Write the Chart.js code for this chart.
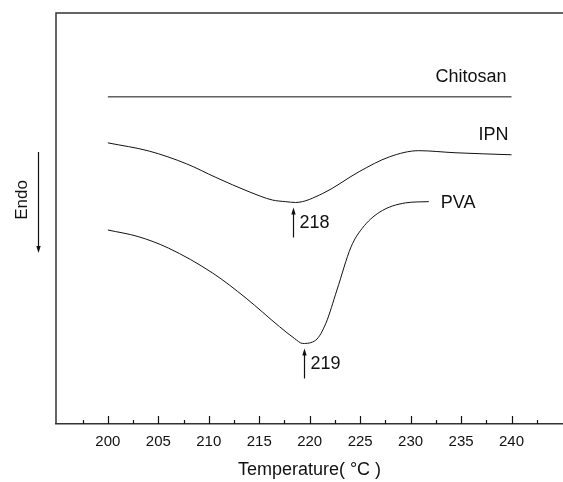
<!DOCTYPE html>
<html>
<head>
<meta charset="utf-8">
<script src="https://cdn.jsdelivr.net/npm/chart.js@4.4.0/dist/chart.umd.min.js"></script>
<style>
  html, body { margin: 0; background: #fff; }
  #wrap { width: 563px; height: 482px; }
</style>
</head>
<body>
<div id="wrap"><canvas id="c"></canvas></div>
<script>
// DSC curves (heat flow, arbitrary units, endo down)
const chitosanT = [200, 240];
const chitosanY = [79.6, 79.6];

const ipnT = [200, 204.1, 207.8, 210.7, 214.0, 216.3, 217.6, 218.6, 221.3, 224.9, 227.9, 230.8, 234.4, 240];
const ipnY = [68.4, 66.4, 63.3, 60.0, 56.5, 54.5, 54.1, 53.9, 56.1, 61.4, 65.0, 66.5, 66.0, 65.5];

const pvaT = [200, 203, 206, 210.4, 213.7, 217.0, 218.5, 219.3, 220.6, 221.6, 222.7, 224.1, 225.2, 226.9, 229.5, 231.8];
const pvaY = [47.2, 45.6, 42.8, 36.7, 30.6, 23.7, 20.8, 19.6, 20.4, 24.5, 32.6, 43.1, 47.6, 51.5, 53.8, 54.1];

const seriesNames = ['Chitosan', 'IPN', 'PVA'];
const peakTemps = [218.3, 219.4];
const peakLabels = ['218', '219'];
const tickValues = [197.5, 200, 202.5, 205, 207.5, 210, 212.5, 215, 217.5, 220, 222.5, 225, 227.5, 230, 232.5, 235, 237.5, 240, 242.5];

const FONT = "'Liberation Sans', Arial, sans-serif";
const INK = '#111';
Chart.defaults.font.family = FONT;

const toPts = (xs, ys) => xs.map((x, i) => ({ x: x, y: ys[i] }));

function arrow(ctx, x, y0, y1) {
    // line from y0 to y1, head at y1
    const dir = y1 > y0 ? 1 : -1;
    ctx.beginPath();
    ctx.moveTo(x, y0);
    ctx.lineTo(x, y1 - dir * 3);
    ctx.stroke();
    ctx.beginPath();
    ctx.moveTo(x, y1);
    ctx.lineTo(x - 2.2, y1 - dir * 7);
    ctx.lineTo(x + 2.2, y1 - dir * 7);
    ctx.closePath();
    ctx.fill();
}

const decorPlugin = {
    id: 'decor',
    afterDraw(chart) {
        const { ctx, chartArea, scales } = chart;
        const xs = scales.x, ys = scales.y;
        ctx.save();

        // frame: top and left lines
        ctx.strokeStyle = '#333';
        ctx.lineWidth = 1.5;
        ctx.beginPath();
        ctx.moveTo(chartArea.left, chartArea.bottom);
        ctx.lineTo(chartArea.left, chartArea.top);
        ctx.lineTo(chartArea.right, chartArea.top);
        ctx.stroke();

        // inward tick marks on bottom axis
        ctx.strokeStyle = INK;
        ctx.lineWidth = 1.2;
        tickValues.forEach(v => {
            const px = Math.round(xs.getPixelForValue(v)) + 0.5;
            const len = v % 5 === 0 ? 8 : 4;
            ctx.beginPath();
            ctx.moveTo(px, chartArea.bottom);
            ctx.lineTo(px, chartArea.bottom - len);
            ctx.stroke();
        });

        // series labels
        ctx.fillStyle = INK;
        ctx.font = '18px ' + FONT;
        ctx.textBaseline = 'middle';
        ctx.textAlign = 'right';
        ctx.fillText(seriesNames[0], xs.getPixelForValue(chitosanT[1]) - 5, ys.getPixelForValue(chitosanY[1]) - 20);
        ctx.fillText(seriesNames[1], xs.getPixelForValue(ipnT[ipnT.length - 1]) - 3, ys.getPixelForValue(ipnY[ipnY.length - 1]) - 20);
        ctx.textAlign = 'left';
        ctx.fillText(seriesNames[2], xs.getPixelForValue(pvaT[pvaT.length - 1]) + 12, ys.getPixelForValue(pvaY[pvaY.length - 1]) + 1);

        // peak arrows + labels
        ctx.strokeStyle = INK;
        ctx.lineWidth = 1.2;
        const mins = [Math.min(...ipnY), Math.min(...pvaY)];
        peakTemps.forEach((t, i) => {
            const px = Math.round(xs.getPixelForValue(t)) + 0.5;
            const tip = ys.getPixelForValue(mins[i]) + 5;
            arrow(ctx, px, tip + 30, tip);
            ctx.textAlign = 'left';
            ctx.fillText(peakLabels[i], px + 6, tip + 15.5);
        });

        // Endo label with downward arrow
        ctx.save();
        ctx.translate(22, 200);
        ctx.rotate(-Math.PI / 2);
        ctx.textAlign = 'center';
        ctx.font = '17px ' + FONT;
        ctx.fillText('Endo', 0, 0);
        ctx.restore();
        ctx.lineWidth = 1.2;
        arrow(ctx, 38.5, 152, 253);

        ctx.restore();
    }
};

const lineStyle = {
    borderColor: INK,
    borderWidth: 1,
    pointRadius: 0,
    fill: false,
    cubicInterpolationMode: 'monotone'
};

new Chart(document.getElementById('c'), {
    type: 'line',
    data: {
        datasets: [
            { label: seriesNames[0], data: toPts(chitosanT, chitosanY), ...lineStyle },
            { label: seriesNames[1], data: toPts(ipnT, ipnY), ...lineStyle },
            { label: seriesNames[2], data: toPts(pvaT, pvaY), ...lineStyle }
        ]
    },
    options: {
        responsive: true,
        maintainAspectRatio: false,
        animation: false,
        layout: { padding: { left: 56, top: 13, right: 0, bottom: 0 } },
        plugins: { legend: { display: false }, tooltip: { enabled: false } },
        scales: {
            x: {
                type: 'linear',
                min: 194.86,
                max: 245.1,
                afterBuildTicks: s => { s.ticks = tickValues.map(v => ({ value: v })); },
                afterFit: s => { s.height = 58; },
                grid: { display: false, drawTicks: false },
                border: { display: true, color: '#333', width: 1.5 },
                ticks: {
                    autoSkip: false,
                    maxRotation: 0,
                    padding: 9,
                    color: INK,
                    font: { size: 15 },
                    callback: v => (v % 5 === 0 && v >= 200 && v <= 240) ? String(v) : ''
                },
                title: {
                    display: true,
                    text: 'Temperature( °C )',
                    color: INK,
                    font: { size: 18 },
                    padding: { top: 0, bottom: 1 }
                }
            },
            y: { display: false, min: 0, max: 100 }
        }
    },
    plugins: [decorPlugin]
});
</script>
</body>
</html>
